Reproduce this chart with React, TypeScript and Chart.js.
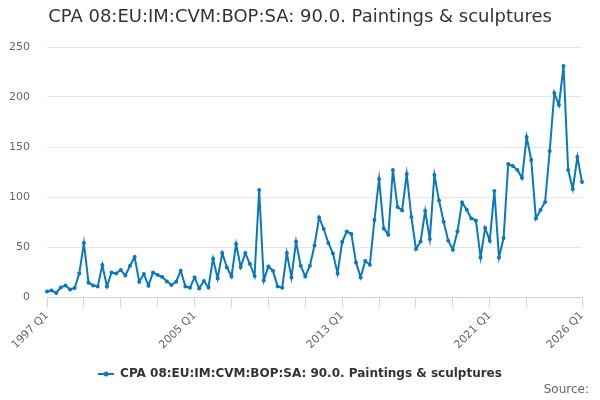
import React, { useEffect, useRef } from 'react'
import { Chart, registerables } from 'chart.js'
import type { Plugin } from 'chart.js'

Chart.register(...registerables)

const TITLE = 'CPA 08:EU:IM:CVM:BOP:SA: 90.0. Paintings & sculptures'
const SERIES_NAME = 'CPA 08:EU:IM:CVM:BOP:SA: 90.0. Paintings & sculptures'
const SOURCE = 'Source:'

// quarters 1997 Q1 .. 2026 Q1
const firstYear = 1997
const quarterCount = 117
const categories: string[] = []
for (let i = 0; i < quarterCount; i++) {
  categories.push(`${firstYear + Math.floor(i / 4)} Q${(i % 4) + 1}`)
}

const values: number[] = [
  5.6, 6.6, 4, 9.6, 11.6, 7.6, 9, 23.6, 54, 14.3,
  11.6, 10.6, 32, 10.6, 24.6, 23.6, 27, 21.6, 31.3, 40,
  15.3, 23, 11.3, 24.6, 22, 20, 15.6, 12, 15.3, 26.3,
  10.6, 9.3, 19.6, 8.6, 16, 9.6, 38.3, 18.6, 44, 29.6,
  20.6, 53, 30, 44, 33, 21, 107, 16.6, 30.6, 26.3,
  10.6, 9.3, 44, 19.6, 55.3, 31.3, 20.6, 31.3, 51.6, 79.6,
  68, 54, 43.6, 23.6, 55, 65.5, 63, 34.6, 19.6, 36,
  32.3, 77, 118, 68.6, 62.3, 127, 90, 86.6, 123, 80,
  48, 55.6, 86, 58, 122, 96.6, 75.3, 56.3, 47.3, 65.6,
  94.6, 87.3, 78.6, 76.6, 39.6, 69, 56.3, 106, 39.6, 59,
  133, 131, 127, 119, 160, 137, 78.5, 87, 95, 146,
  204, 192, 231, 127, 108, 140, 115,
]

const labelIndices = [0, 32, 64, 96, 116]
const tickMarkIndices = [0, 8, 16, 24, 32, 40, 48, 56, 64, 72, 80, 88, 96, 104, 116]
const yTicks = [0, 50, 100, 150, 200, 250]

const LINE_COLOR = '#0a78be'
const FONT = 'DejaVu Sans, Verdana, sans-serif'

function legendSymbol(): HTMLCanvasElement {
  const c = document.createElement('canvas')
  c.width = 16
  c.height = 8
  const g = c.getContext('2d')!
  g.strokeStyle = LINE_COLOR
  g.lineWidth = 2
  g.beginPath()
  g.moveTo(0, 4)
  g.lineTo(16, 4)
  g.stroke()
  g.fillStyle = LINE_COLOR
  g.beginPath()
  g.arc(8, 4, 2.5, 0, Math.PI * 2)
  g.fill()
  return c
}

const sourceText: Plugin<'line'> = {
  id: 'sourceText',
  afterDraw(chart) {
    const { ctx } = chart
    ctx.save()
    ctx.font = `12px ${FONT}`
    ctx.fillStyle = '#666666'
    ctx.textAlign = 'right'
    ctx.textBaseline = 'middle'
    ctx.fillText(SOURCE, 589, 390)
    ctx.restore()
  },
}

export default function App() {
  const ref = useRef<HTMLCanvasElement | null>(null)

  useEffect(() => {
    if (!ref.current) return
    const labelSet = new Set(labelIndices)
    const tickSet = new Set(tickMarkIndices)
    const chart = new Chart(ref.current, {
      type: 'line',
      data: {
        labels: categories,
        datasets: [
          {
            label: SERIES_NAME,
            data: values,
            borderColor: LINE_COLOR,
            backgroundColor: LINE_COLOR,
            borderWidth: 2,
            pointRadius: 2,
            pointBorderWidth: 0,
            pointBackgroundColor: LINE_COLOR,
            tension: 0,
          },
        ],
      },
      options: {
        responsive: false,
        animation: false,
        layout: { padding: { left: 0, right: 0, top: 0, bottom: 10 } },
        scales: {
          x: {
            type: 'category',
            offset: false,
            afterFit(scale) {
              scale.height = 61
              ;(scale as any).paddingRight = 18
            },
            border: { display: true, color: '#ccd6eb', width: 1 },
            grid: {
              drawOnChartArea: false,
              drawTicks: true,
              tickLength: 10,
              tickColor: (ctx: any) => (tickSet.has(ctx.index) ? '#ccd6eb' : 'rgba(0,0,0,0)'),
            },
            ticks: {
              autoSkip: false,
              minRotation: 45,
              maxRotation: 45,
              padding: 2,
              color: '#666666',
              font: { family: FONT, size: 11 },
              callback: (_v, idx) => (labelSet.has(idx) ? categories[idx] : ''),
            },
          },
          y: {
            min: 0,
            max: 250,
            afterFit(scale) {
              scale.width = 47
            },
            afterBuildTicks(scale) {
              scale.ticks = yTicks.map((v) => ({ value: v }))
            },
            border: { display: false },
            grid: { color: '#e6e6e6', lineWidth: 1, drawTicks: false },
            ticks: {
              padding: 17,
              color: '#666666',
              font: { family: FONT, size: 11 },
            },
          },
        },
        plugins: {
          title: {
            display: true,
            text: TITLE,
            color: '#333333',
            font: { family: FONT, size: 18, weight: 'normal' },
            padding: { top: 6.7, bottom: 18.7 },
          },
          legend: {
            display: true,
            position: 'bottom',
            labels: {
              usePointStyle: true,
              pointStyle: legendSymbol(),
              pointStyleWidth: 16,
              padding: 10,
              color: '#333333',
              font: { family: FONT, size: 12, weight: 'bold' },
            },
          },
          tooltip: { enabled: false },
        },
      },
      plugins: [sourceText],
    })
    return () => chart.destroy()
  }, [])

  return (
    <div style={{ position: 'fixed', left: 0, top: 0, width: 600, height: 400, background: '#ffffff' }}>
      <canvas ref={ref} width={600} height={400} />
    </div>
  )
}
